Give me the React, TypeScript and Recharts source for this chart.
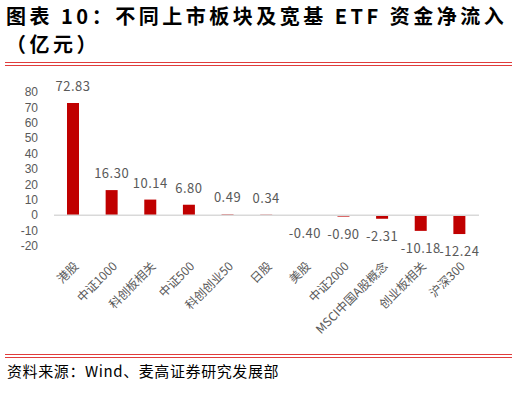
import React from "react";
import {
  BarChart,
  Bar,
  XAxis,
  YAxis,
  ReferenceLine,
  LabelList,
} from "recharts";

const categories = [
  "港股",
  "中证1000",
  "科创板相关",
  "中证500",
  "科创创业50",
  "日股",
  "美股",
  "中证2000",
  "MSCI中国A股概念",
  "创业板相关",
  "沪深300",
];
const inflows = [72.83, 16.3, 10.14, 6.8, 0.49, 0.34, -0.4, -0.9, -2.31, -10.18, -12.24];
const yTicks = [-20, -10, 0, 10, 20, 30, 40, 50, 60, 70, 80];

const data = categories.map((name, i) => ({ name, value: inflows[i] }));

const gray = "#595959";
const red = "#C00000";
const cjk = '"Noto Sans CJK SC", "Noto Sans", sans-serif';

const renderLabel = (props: any) => {
  const { x, y, width, height, value } = props;
  const cx = x + width / 2;
  const neg = value < 0;
  // height is negative for negative bars in recharts
  const top = Math.min(y, y + height);
  const bottom = Math.max(y, y + height);
  const ty = neg ? bottom + 22 : top - 12;
  return (
    <text
      x={cx}
      y={ty}
      textAnchor="middle"
      fill={gray}
      fontSize={13}
      fontFamily={cjk}
      letterSpacing={0.5}
    >
      {value.toFixed(2)}
    </text>
  );
};

const renderTick = (props: any) => {
  const { x, y, payload } = props;
  const ax = x + 6;
  const ay = y + 13;
  return (
    <text
      x={ax}
      y={ay}
      textAnchor="end"
      fill={gray}
      fontSize={12}
      fontFamily={cjk}
      transform={`rotate(-45, ${ax}, ${ay})`}
    >
      {payload.value}
    </text>
  );
};

export default function App() {
  return (
    <div
      style={{
        position: "absolute",
        left: 0,
        top: 0,
        width: 518,
        height: 394,
        background: "#fff",
        overflow: "hidden",
        fontFamily: cjk,
      }}
    >
      <div
        style={{
          position: "absolute",
          left: 6,
          top: 2,
          fontSize: 20,
          fontWeight: 700,
          letterSpacing: 3.5,
          lineHeight: "28px",
          color: "#000",
          whiteSpace: "nowrap",
        }}
      >
        图表 10：不同上市板块及宽基 ETF 资金净流入
        <br />
        （亿元）
      </div>
      <div
        style={{
          position: "absolute",
          left: 5,
          top: 62,
          width: 507,
          height: 0,
          borderTop: "4px double #e03c3c",
        }}
      />
      <div style={{ position: "absolute", left: 0, top: 70 }}>
        <BarChart
          width={518}
          height={275}
          data={data}
          margin={{ top: 22, right: 39, left: 0, bottom: 0 }}
        >
          <XAxis
            dataKey="name"
            axisLine={false}
            tickLine={false}
            interval={0}
            height={99}
            tick={renderTick}
          />
          <YAxis
            width={54}
            domain={[-20, 80]}
            ticks={yTicks}
            interval={0}
            axisLine={false}
            tickLine={false}
            tickMargin={10}
            tick={{ fill: gray, fontSize: 12, fontFamily: '"Liberation Sans", sans-serif' }}
          />
          <ReferenceLine y={0} stroke="#d9d9d9" strokeWidth={1.5} />
          <Bar dataKey="value" fill={red} barSize={12} isAnimationActive={false}>
            <LabelList dataKey="value" content={renderLabel} />
          </Bar>
        </BarChart>
      </div>
      <div
        style={{
          position: "absolute",
          left: 5,
          top: 354,
          width: 507,
          height: 0,
          borderTop: "4px double #e03c3c",
        }}
      />
      <div
        style={{
          position: "absolute",
          left: 7,
          top: 361,
          fontSize: 15,
          letterSpacing: 0.6,
          lineHeight: "20px",
          color: "#000",
          whiteSpace: "nowrap",
        }}
      >
        资料来源：Wind、麦高证券研究发展部
      </div>
    </div>
  );
}
